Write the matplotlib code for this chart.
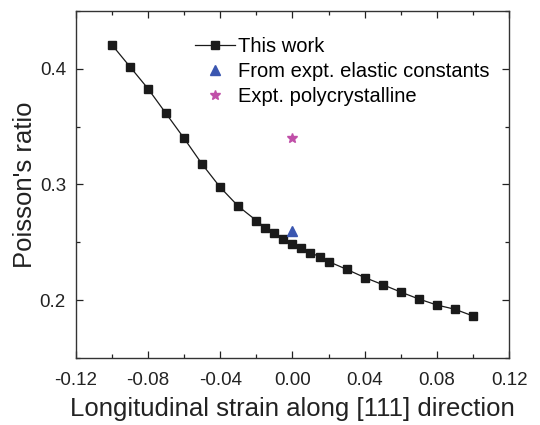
import matplotlib
matplotlib.use('Agg')
import matplotlib.pyplot as plt
from matplotlib.ticker import MultipleLocator

plt.rcParams['font.family'] = ['Liberation Sans', 'DejaVu Sans']

# strain along [111] and calculated Poisson's ratio
strain = [-0.10, -0.09, -0.08, -0.07, -0.06, -0.05, -0.04, -0.03, -0.02, -0.015,
          -0.01, -0.005, 0.0, 0.005, 0.01, 0.015, 0.02, 0.03, 0.04, 0.05,
          0.06, 0.07, 0.08, 0.09, 0.10]
poisson = [0.421, 0.402, 0.383, 0.3615, 0.340, 0.3176, 0.2976, 0.2812, 0.2688, 0.2626,
           0.258, 0.2531, 0.2488, 0.2451, 0.2411, 0.2374, 0.2333, 0.2266, 0.2195, 0.2133,
           0.2069, 0.2009, 0.1957, 0.192, 0.1862]

# experimental references at zero strain
elastic_x, elastic_y = [0.0], [0.2595]
poly_x, poly_y = [0.0], [0.340]

fig = plt.figure(figsize=(5.4, 4.25), dpi=100)
ax = fig.add_axes([0.140, 0.158, 0.803, 0.816])

ax.plot(strain, poisson, '-s', color='#1a1a1a', lw=0.9, ms=6,
        label='This work')
ax.plot(elastic_x, elastic_y, '^', color='#3a56b0', ms=7, ls='none',
        label='From expt. elastic constants')
ax.plot(poly_x, poly_y, '*', color='#c04fa8', ms=7, ls='none',
        label='Expt. polycrystalline')

ax.set_xlim(-0.12, 0.12)
ax.set_ylim(0.15, 0.45)
ax.xaxis.set_major_locator(MultipleLocator(0.04))
ax.xaxis.set_minor_locator(MultipleLocator(0.02))
ax.yaxis.set_major_locator(MultipleLocator(0.1))
ax.yaxis.set_minor_locator(MultipleLocator(0.05))
ax.xaxis.set_major_formatter(plt.FuncFormatter(lambda v, p: '%.2f' % v))
ax.yaxis.set_major_formatter(plt.FuncFormatter(lambda v, p: '%.1f' % v))

ax.tick_params(which='both', direction='in', top=True, right=True,
               labelsize=13.5, colors='#222222')
ax.tick_params(axis='x', pad=10)
ax.tick_params(axis='y', pad=7)
ax.tick_params(which='major', length=5, width=0.9)
ax.tick_params(which='minor', length=3, width=0.9)
for s in ax.spines.values():
    s.set_linewidth(1.0)
    s.set_color('#333333')

ax.set_xlabel('Longitudinal strain along [111] direction', fontsize=18.5,
              color='#222222', labelpad=6)
ax.set_ylabel("Poisson's ratio", fontsize=18.5, color='#222222', labelpad=2)

ax.legend(loc='upper left', bbox_to_anchor=(0.275, 0.925), frameon=False,
          fontsize=14.5, handlelength=2.0, handletextpad=0.15, labelspacing=0.3,
          borderpad=0, borderaxespad=0)

fig.savefig('out.png', dpi=100)
